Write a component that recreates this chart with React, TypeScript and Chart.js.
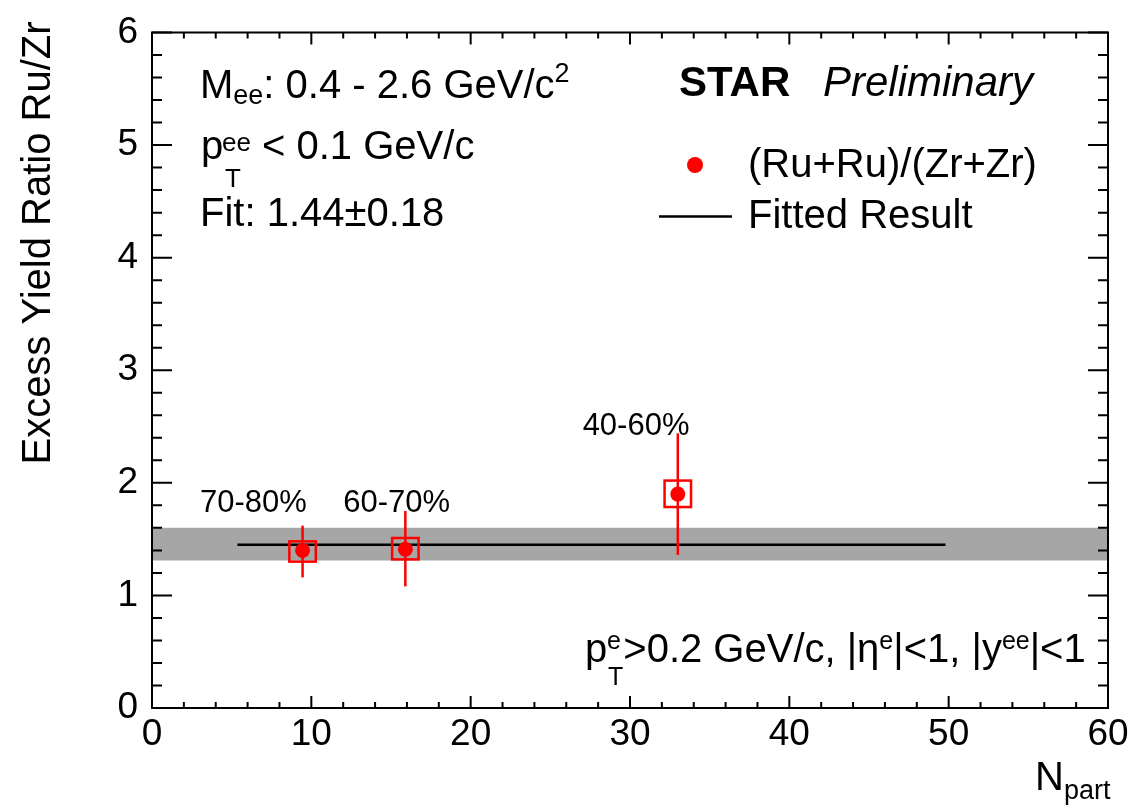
import React, { useEffect, useRef } from 'react';
import { Chart, registerables } from 'chart.js';

Chart.register(...registerables);

// ---- data ----
const nPart = [9.45, 15.9, 33.0];
const ratio = [1.4, 1.41, 1.9];
const statLow = [1.16, 1.08, 1.36];
const statHigh = [1.62, 1.75, 2.44];
const sysLow = [1.3, 1.32, 1.785];
const sysHigh = [1.48, 1.51, 2.02];
const sysHalfWidth = 0.83;
const centralityLabels = ['70-80%', '60-70%', '40-60%'];
const labelAnchorX = [6.37, 15.35, 30.38];
const labelAnchorY = [1.744, 1.744, 2.424];
const fitValue = 1.45;
const fitRange = [5.36, 49.8];
const bandLow = 1.31;
const bandHigh = 1.6;
const bandRange = [0, 60];
const xTicks = [0, 10, 20, 30, 40, 50, 60];
const yTicks = [0, 1, 2, 3, 4, 5, 6];

const FAMILY = '"Liberation Sans", Arial, Helvetica, sans-serif';

type Seg = { t: string; size: number; dy?: number; weight?: string; style?: string; x?: number; noAdvance?: boolean };

function drawRich(ctx: CanvasRenderingContext2D, x: number, y: number, segs: Seg[]) {
  let cx = x;
  let maxX = x;
  for (const s of segs) {
    ctx.font = `${s.style || 'normal'} ${s.weight || 'normal'} ${s.size}px ${FAMILY}`;
    const sx = s.x !== undefined ? s.x : cx;
    ctx.fillText(s.t, sx, y + (s.dy || 0));
    const end = sx + ctx.measureText(s.t).width;
    maxX = Math.max(maxX, end);
    if (!s.noAdvance) cx = Math.max(end, maxX);
  }
  return cx;
}

const decorPlugin = {
  id: 'decor',
  afterDatasetsDraw(chart: any) {
    const { ctx, scales } = chart;
    const x = scales.x;
    const y = scales.y;
    ctx.save();
    ctx.strokeStyle = '#ff0000';
    ctx.lineWidth = 2.5;
    for (let i = 0; i < nPart.length; i++) {
      const px = x.getPixelForValue(nPart[i]);
      ctx.beginPath();
      ctx.moveTo(px, y.getPixelForValue(statLow[i]));
      ctx.lineTo(px, y.getPixelForValue(statHigh[i]));
      ctx.stroke();
      const l = x.getPixelForValue(nPart[i] - sysHalfWidth);
      const r = x.getPixelForValue(nPart[i] + sysHalfWidth);
      const t = y.getPixelForValue(sysHigh[i]);
      const b = y.getPixelForValue(sysLow[i]);
      ctx.strokeRect(l, t, r - l, b - t);
    }
    ctx.restore();
  },
  afterDraw(chart: any) {
    const { ctx, chartArea, scales } = chart;
    const x = scales.x;
    const y = scales.y;
    const { left, right, top, bottom } = chartArea;
    ctx.save();
    // frame
    ctx.strokeStyle = '#000';
    ctx.lineWidth = 2;
    ctx.strokeRect(left, top, right - left, bottom - top);
    // ticks
    ctx.lineWidth = 2;
    ctx.beginPath();
    for (let v = 0; v <= 60 + 1e-6; v += 2) {
      const major = Math.abs(v / 10 - Math.round(v / 10)) < 1e-6;
      const len = major ? 12 : 6;
      const px = x.getPixelForValue(v);
      ctx.moveTo(px, bottom);
      ctx.lineTo(px, bottom - len);
      ctx.moveTo(px, top);
      ctx.lineTo(px, top + len);
    }
    for (let k = 0; k <= 30; k++) {
      const v = k * 0.2;
      const major = k % 5 === 0;
      const len = major ? 20 : 10;
      const py = y.getPixelForValue(v);
      ctx.moveTo(left, py);
      ctx.lineTo(left + len, py);
      ctx.moveTo(right, py);
      ctx.lineTo(right - len, py);
    }
    ctx.stroke();

    ctx.fillStyle = '#000';
    ctx.textBaseline = 'alphabetic';
    ctx.textAlign = 'left';

    // y title
    ctx.save();
    ctx.translate(50, 243);
    ctx.rotate(-Math.PI / 2);
    ctx.textAlign = 'center';
    ctx.font = `40px ${FAMILY}`;
    ctx.fillText('Excess Yield Ratio Ru/Zr', 0, 0);
    ctx.restore();

    // x title
    drawRich(ctx, 1035, 790, [
      { t: 'N', size: 40 },
      { t: 'part', size: 27, dy: 9 },
    ]);

    // top-left annotations
    drawRich(ctx, 200, 98, [
      { t: 'M', size: 40 },
      { t: 'ee', size: 27, dy: 6 },
      { t: ': 0.4 - 2.6 GeV/c', size: 40 },
      { t: '2', size: 27, dy: -16 },
    ]);
    drawRich(ctx, 201, 159, [
      { t: 'p', size: 40 },
      { t: 'ee', size: 26, dy: -8, noAdvance: true, x: 222 },
      { t: 'T', size: 26, dy: 28, x: 225 },
      { t: ' < 0.1 GeV/c', size: 40 },
    ]);
    drawRich(ctx, 200, 226, [{ t: 'Fit: 1.44\u00b10.18', size: 40 }]);

    // STAR Preliminary
    drawRich(ctx, 679, 96, [{ t: 'STAR', size: 42, weight: 'bold' }]);
    drawRich(ctx, 823, 96, [{ t: 'Preliminary', size: 42, style: 'italic' }]);

    // legend
    ctx.fillStyle = '#ff0000';
    ctx.beginPath();
    ctx.arc(695, 165, 8, 0, Math.PI * 2);
    ctx.fill();
    ctx.strokeStyle = '#000';
    ctx.lineWidth = 2.5;
    ctx.beginPath();
    ctx.moveTo(659, 216.5);
    ctx.lineTo(732, 216.5);
    ctx.stroke();
    ctx.fillStyle = '#000';
    drawRich(ctx, 748, 177, [{ t: '(Ru+Ru)/(Zr+Zr)', size: 40 }]);
    drawRich(ctx, 748, 228, [{ t: 'Fitted Result', size: 40 }]);

    // bottom-right cuts
    drawRich(ctx, 585, 662, [
      { t: 'p', size: 40 },
      { t: 'e', size: 25, dy: -13, noAdvance: true, x: 607 },
      { t: 'T', size: 25, dy: 23, x: 608 },
      { t: '>0.2 GeV/c, |\u03b7', size: 40 },
      { t: 'e', size: 25, dy: -13 },
      { t: '|<1, |y', size: 40 },
      { t: 'ee', size: 25, dy: -13 },
      { t: '|<1', size: 40 },
    ]);

    // centrality labels
    ctx.textAlign = 'center';
    ctx.font = `31px ${FAMILY}`;
    for (let i = 0; i < centralityLabels.length; i++) {
      ctx.fillText(centralityLabels[i], x.getPixelForValue(labelAnchorX[i]), y.getPixelForValue(labelAnchorY[i]));
    }
    ctx.restore();
  },
};

export default function App() {
  const ref = useRef<HTMLCanvasElement | null>(null);
  useEffect(() => {
    document.body.style.margin = '0';
    const canvas = ref.current;
    if (!canvas) return;
    const chart = new Chart(canvas, {
      type: 'scatter',
      data: {
        datasets: [
          {
            type: 'scatter',
            label: '(Ru+Ru)/(Zr+Zr)',
            data: nPart.map((v, i) => ({ x: v, y: ratio[i] })),
            pointRadius: 7.5,
            pointBackgroundColor: '#ff0000',
            pointBorderWidth: 0,
            order: 0,
          } as any,
          {
            type: 'line',
            label: 'Fitted Result',
            data: fitRange.map((v) => ({ x: v, y: fitValue })),
            borderColor: '#000',
            borderWidth: 2.5,
            pointRadius: 0,
            fill: false,
            order: 1,
          } as any,
          {
            type: 'line',
            label: 'band-high',
            data: bandRange.map((v) => ({ x: v, y: bandHigh })),
            borderWidth: 0,
            borderColor: 'rgba(0,0,0,0)',
            pointRadius: 0,
            fill: false,
            order: 5,
          } as any,
          {
            type: 'line',
            label: 'band-low',
            data: bandRange.map((v) => ({ x: v, y: bandLow })),
            borderWidth: 0,
            borderColor: 'rgba(0,0,0,0)',
            backgroundColor: '#a6a6a6',
            pointRadius: 0,
            fill: '-1',
            order: 6,
          } as any,
        ],
      },
      options: {
        responsive: false,
        animation: false,
        devicePixelRatio: 1,
        layout: { padding: { top: 20, right: 37, bottom: 0, left: 0 } },
        plugins: { legend: { display: false }, tooltip: { enabled: false } },
        scales: {
          x: {
            type: 'linear',
            min: 0,
            max: 60,
            afterBuildTicks: (s: any) => {
              s.ticks = xTicks.map((v) => ({ value: v }));
            },
            afterFit: (s: any) => {
              s.height = 98;
            },
            ticks: { font: { family: FAMILY, size: 37, lineHeight: 1.2 }, color: '#000', padding: 5, maxRotation: 0 },
            grid: { display: false, drawTicks: false },
            border: { display: false },
          },
          y: {
            type: 'linear',
            min: 0,
            max: 6,
            afterBuildTicks: (s: any) => {
              s.ticks = yTicks.map((v) => ({ value: v }));
            },
            afterFit: (s: any) => {
              s.width = 152;
            },
            ticks: { font: { family: FAMILY, size: 37, lineHeight: 1 }, color: '#000', padding: 14 },
            grid: { display: false, drawTicks: false },
            border: { display: false },
          },
        },
      } as any,
      plugins: [decorPlugin],
    });
    return () => chart.destroy();
  }, []);
  return (
    <div style={{ width: 1145, height: 806, background: '#fff' }}>
      <canvas ref={ref} width={1145} height={806} style={{ display: 'block' }} />
    </div>
  );
}
